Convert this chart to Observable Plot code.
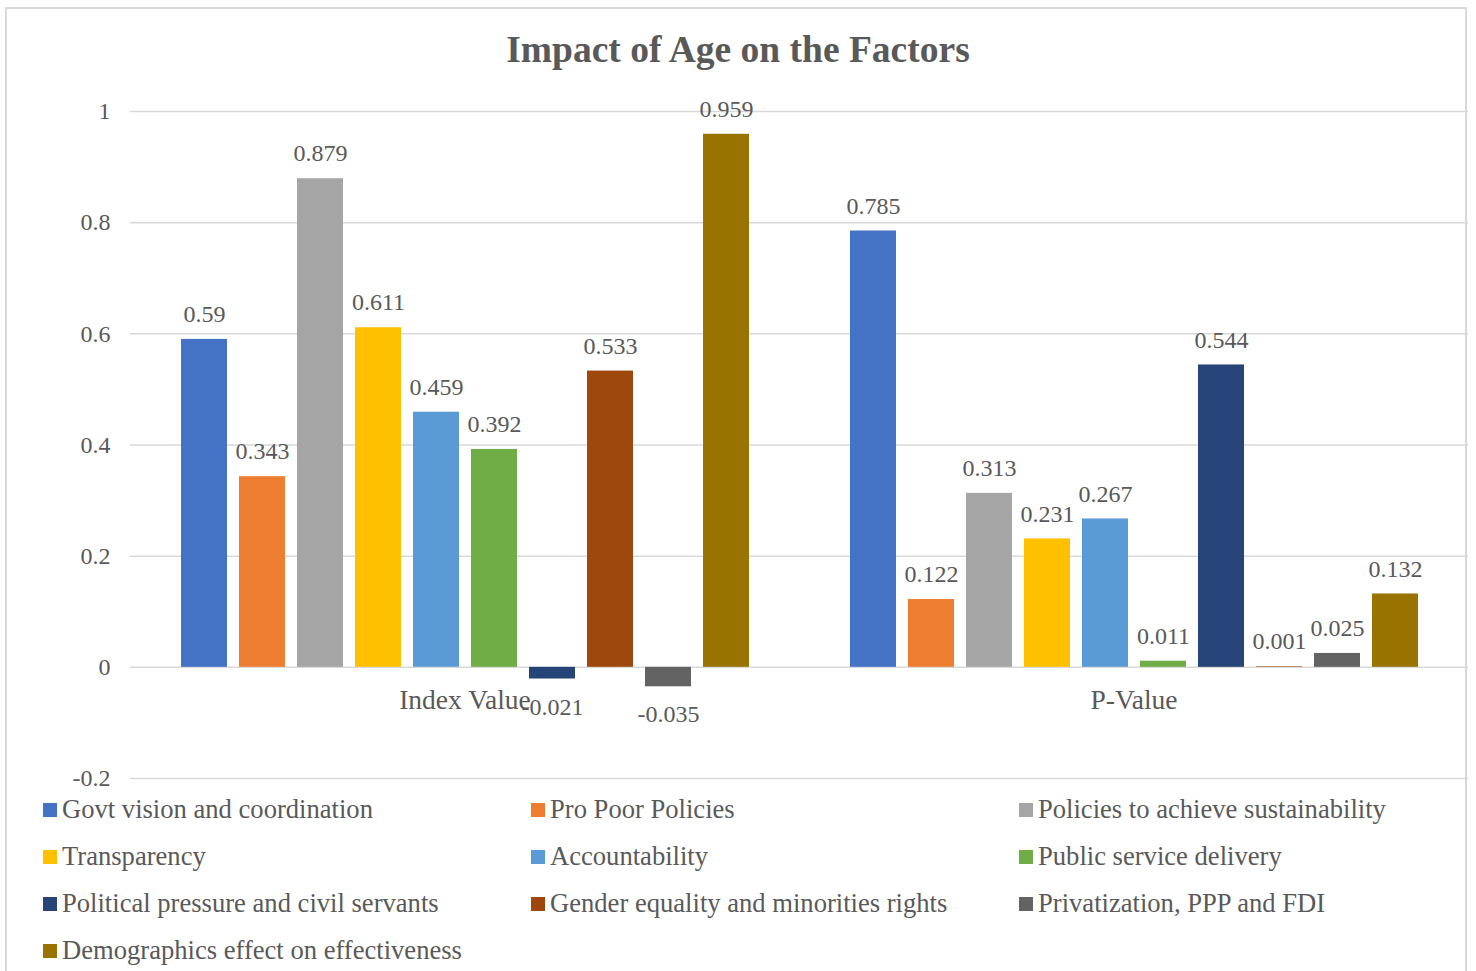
<!DOCTYPE html>
<html>
<head>
<meta charset="utf-8">
<script src="https://cdn.jsdelivr.net/npm/d3@7"></script>
<script src="https://cdn.jsdelivr.net/npm/@observablehq/plot@0.6"></script>
<style>
  html, body { margin: 0; padding: 0; background: #fff; }
  #wrap { position: relative; width: 1476px; height: 971px; overflow: hidden; font-family: 'Liberation Serif', 'Times New Roman', serif; color: #595959; }
  #border { position: absolute; left: 5px; top: 7px; width: 1462px; height: 1000px; border: 2px solid #d9d9d9; box-sizing: border-box; }
  #title { position: absolute; left: 0; top: 31px; width: 1476px; text-align: center; font-size: 37.5px; line-height: 38px; font-weight: bold; color: #595959; }
  #chart { position: absolute; left: 0; top: 0; }
  #legend { position: absolute; left: 43px; top: 786px; display: grid; grid-template-columns: 488px 488px 440px; }
  .item { display: flex; align-items: center; height: 47px; font-size: 26.6px; white-space: nowrap; }
  .sw { width: 14px; height: 14px; margin-right: 5px; flex: none; }
</style>
</head>
<body>
<div id="wrap">
  <div id="border"></div>
  <div id="chart"></div>
  <div id="title">Impact of Age on the Factors</div>
  <div id="legend"></div>
</div>
<script>
const groups = ["Index Value", "P-Value"];
const series = [
  "Govt vision and coordination",
  "Pro Poor Policies",
  "Policies to achieve sustainability",
  "Transparency",
  "Accountability",
  "Public service delivery",
  "Political pressure and civil servants",
  "Gender equality and minorities rights",
  "Privatization, PPP and FDI",
  "Demographics effect on effectiveness"
];
const indexValues = [0.59, 0.343, 0.879, 0.611, 0.459, 0.392, -0.021, 0.533, -0.035, 0.959];
const pValues = [0.785, 0.122, 0.313, 0.231, 0.267, 0.011, 0.544, 0.001, 0.025, 0.132];
const colors = ["#4472C4", "#ED7D31", "#A5A5A5", "#FFC000", "#5B9BD5", "#70AD47", "#264478", "#9E480E", "#636363", "#997300"];
const yTicks = [-0.2, 0, 0.2, 0.4, 0.6, 0.8, 1];

const valuesByGroup = [indexValues, pValues];
const data = groups.flatMap((g, gi) => series.map((s, si) => ({group: g, series: s, value: valuesByGroup[gi][si]})));

const txt = "#595959";
const chart = Plot.plot({
  width: 1476,
  height: 790,
  marginTop: 111,
  marginBottom: 12,
  marginLeft: 130,
  marginRight: 8,
  style: {fontFamily: "'Liberation Serif', 'Times New Roman', serif", fontSize: "24px", color: txt, background: "transparent", overflow: "visible"},
  fx: {domain: groups, padding: 0, axis: null},
  x: {domain: series, paddingInner: 0.207, paddingOuter: 0.87, axis: null},
  y: {domain: [-0.2, 1], axis: null},
  color: {domain: series, range: colors},
  marks: [
    Plot.gridY(yTicks, {stroke: "#d9d9d9", strokeOpacity: 1, strokeWidth: 1.5}),
    Plot.axisY(yTicks, {tickSize: 0, tickPadding: 20, label: null, tickFormat: d => String(Math.round(d * 10) / 10), fontSize: 24, fill: txt}),
    Plot.barY(data, {fx: "group", x: "series", y: "value", fill: "series"}),
    Plot.text(data.filter(d => d.value >= 0), {fx: "group", x: "series", y: "value", text: d => String(d.value), dy: -25, fill: txt, fontSize: 24}),
    Plot.text(data.filter(d => d.value < 0), {fx: "group", x: "series", y: "value", text: d => String(d.value), dy: 28, fill: txt, fontSize: 24}),
    Plot.text(groups, {fx: d => d, y: d => 0, text: d => d, dy: 33, fill: txt, fontSize: 27.5})
  ]
});
document.getElementById("chart").appendChild(chart);

const legend = document.getElementById("legend");
series.forEach((s, i) => {
  const item = document.createElement("div");
  item.className = "item";
  const sw = document.createElement("span");
  sw.className = "sw";
  sw.style.background = colors[i];
  const label = document.createElement("span");
  label.textContent = s;
  item.appendChild(sw);
  item.appendChild(label);
  legend.appendChild(item);
});
</script>
</body>
</html>
